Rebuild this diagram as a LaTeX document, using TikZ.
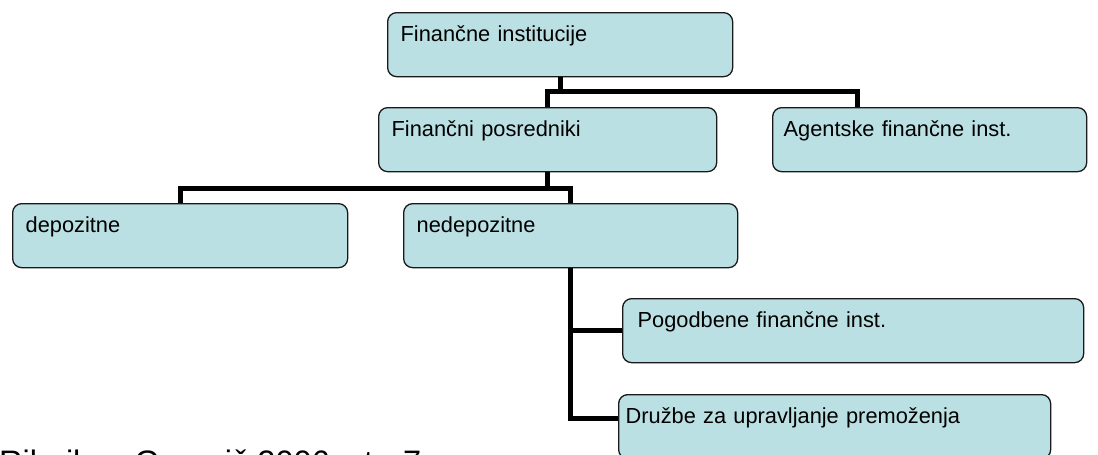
\documentclass[tikz,border=0pt]{standalone}
\usepackage{fontspec}
\setmainfont{Liberation Sans}
\definecolor{boxfill}{RGB}{187,224,227}

\begin{document}
\begin{tikzpicture}[
    x=1pt, y=-1pt,
    box/.style={draw=black!90, fill=boxfill, line width=1.3pt, rounded corners=9pt,
        anchor=north west, inner xsep=13pt, inner ysep=0pt,
        text height=28.5pt, text depth=35.5pt, align=left,
        font=\fontsize{21.8}{25}\selectfont},
    link/.style={line width=5pt, black}
]
    \useasboundingbox (0,0) rectangle (1098,455);

    % Top level
    \node[box, text width=319pt] (fin) at (387,12) {Finančne institucije};

    % Second level
    \node[box, text width=312pt] (posr) at (378,107) {Finančni posredniki};
    \node[box, inner xsep=11pt, text width=292pt] (agent) at (772,107) {Agentske finančne inst.};

    % Third level
    \node[box, text width=309pt] (dep) at (12,203) {depozitne};
    \node[box, text width=308pt] (nedep) at (403,203) {nedepozitne};

    % Fourth level
    \node[box, inner xsep=15pt, text width=431pt] (pog) at (622,298) {Pogodbene finančne inst.};
    \node[box, inner xsep=7pt, text width=418pt] (druz) at (618,394) {Družbe za upravljanje premoženja};

    % Source
    \node[anchor=base west, inner sep=0pt, font=\fontsize{32.5}{38}\selectfont] (src) at (-1,473) {Ribnikar, Gorenič 2006, str. 7};

    % Links from the top box
    \draw[link] (fin.south) -- ++(0,14) coordinate (fork1);
    \draw[link] (posr.north) -- (posr.north |- fork1) -| ([xshift=85pt]agent.north west);

    % Links from Finančni posredniki
    \draw[link] (posr.south) -- ++(0,16) coordinate (fork2);
    \draw[link] (dep.north) |- (fork2) -| (nedep.north);

    % Links from nedepozitne
    \draw[link] (nedep.south) |- ([yshift=8pt]druz.west);
    \draw[link] (nedep.south |- pog.west) -- (pog.west);

\end{tikzpicture}
\end{document}
